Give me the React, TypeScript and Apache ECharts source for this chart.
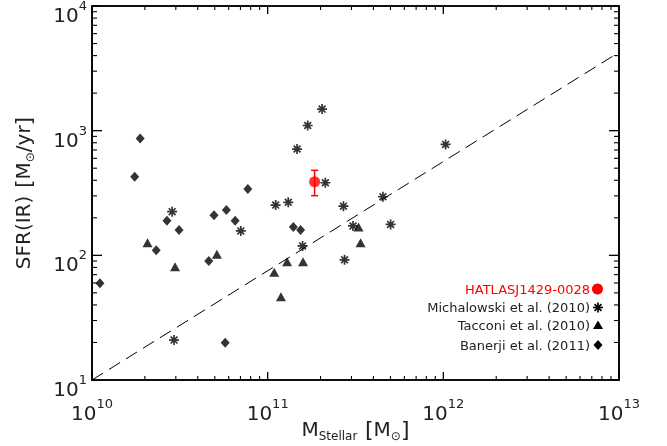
import React, { useEffect, useRef } from "react";
import * as echarts from "echarts";

// ---- Data ----
const michalowskiMass = [2.86e10, 7.03e10, 1.11e11, 1.31e11, 1.58e11, 2.7e11, 3.06e11, 2.74e11, 2.93e10, 2.13e11, 1.47e11, 1.69e11, 2.04e11, 1.03e12, 4.53e11, 5.01e11];
const michalowskiSFR = [224, 157, 253, 266, 119, 248, 172, 92, 20.9, 382, 712, 1100, 1490, 776, 295, 177];

const tacconiMass = [2.07e10, 2.97e10, 5.14e10, 1.09e11, 1.19e11, 1.29e11, 1.59e11, 3.29e11, 3.38e11];
const tacconiSFR = [126, 81, 102, 73, 46.5, 89, 89, 169, 126];

const banerjiMass = [1.11e10, 1.88e10, 1.75e10, 2.67e10, 2.32e10, 3.13e10, 4.95e10, 5.82e10, 6.53e10, 7.71e10, 4.62e10, 5.73e10, 1.4e11, 1.54e11];
const banerjiSFR = [59.6, 867, 427, 189, 110, 160, 210, 231, 189, 340, 90, 19.9, 169, 160];

const hatlasMass = [1.85e11];
const hatlasSFR = [389];
const hatlasSFRLow = [301];
const hatlasSFRHigh = [481];

const relationMass = [1e10, 1e13];
const relationSFR = [10, 4250];

const xRange = [1e10, 1e13];
const yRange = [10, 1e4];

const legendLabels = ["HATLASJ1429-0028", "Michalowski et al. (2010)", "Tacconi et al. (2010)", "Banerji et al. (2011)"];

// tick positions on the log axes: decades (major) and 2..9 x 10^k (minor)
const decades = (lo: number, hi: number) => {
  const out: number[] = [];
  for (let e = Math.round(Math.log10(lo)); e <= Math.round(Math.log10(hi)); e++) out.push(Math.pow(10, e));
  return out;
};
const minorTicks = (lo: number, hi: number) => {
  const out: number[] = [];
  for (let e = Math.round(Math.log10(lo)); e < Math.round(Math.log10(hi)); e++) {
    for (let m = 2; m <= 9; m++) out.push(m * Math.pow(10, e));
  }
  return out;
};

const FONT = "DejaVu Sans";
const TXT = "#222";
const ASTER = "path://M0,5L10,5M5,0L5,10M1.6,1.6L8.4,8.4M8.4,1.6L1.6,8.4";

const powLabel = (v: number) => `{b|10}{s|${Math.round(Math.log10(v))}}`;
const mkPowRich = () => ({
  b: { fontFamily: FONT, fontSize: 20, color: TXT, lineHeight: 26, verticalAlign: "bottom" },
  s: { fontFamily: FONT, fontSize: 13, color: TXT, lineHeight: 14, verticalAlign: "top" },
});
const mkNameRich = () => ({
  m: { fontFamily: FONT, fontSize: 20, color: TXT, lineHeight: 26, verticalAlign: "middle" },
  sub: { fontFamily: FONT, fontSize: 12, color: TXT, lineHeight: 12, verticalAlign: "bottom" },
  sp: { fontFamily: FONT, fontSize: 12, color: TXT, lineHeight: 12 },
  br: { fontFamily: FONT, fontSize: 22, color: TXT, lineHeight: 26, verticalAlign: "middle" },
  sun: { fontFamily: FONT, fontSize: 12, color: TXT, lineHeight: 12, verticalAlign: "bottom" },
});

const mkLine = () => ({ show: true, lineStyle: { color: "#000", width: 1.6 } });

export default function App() {
  const ref = useRef<HTMLDivElement>(null);

  useEffect(() => {
    if (!ref.current) return;
    const chart = echarts.init(ref.current, undefined, { renderer: "svg" });

    const option: any = {
      animation: false,
      grid: { left: 92, top: 6, width: 527, height: 374, outerBoundsMode: "none" },
      xAxis: [
        {
          type: "log",
          position: "bottom",
          min: xRange[0],
          max: xRange[1],
          axisLine: mkLine(),
          axisTick: { show: false },
          splitLine: { show: false },
          axisLabel: { show: true, formatter: powLabel, rich: mkPowRich(), margin: 17 },
          name: "{m|M}{sub|Stellar}{sp|  }{br|[}{m|M}{sun|⊙}{br|]}",
          nameLocation: "middle",
          nameGap: 36,
          nameMoveOverlap: false,
          nameTextStyle: { color: TXT, rich: mkNameRich() },
        },
        {
          type: "log",
          position: "top",
          min: xRange[0],
          max: xRange[1],
          axisLine: mkLine(),
          axisTick: { show: false },
          splitLine: { show: false },
          axisLabel: { show: false },
        },
      ],
      yAxis: [
        {
          type: "log",
          position: "left",
          min: yRange[0],
          max: yRange[1],
          axisLine: mkLine(),
          axisTick: { show: false },
          splitLine: { show: false },
          axisLabel: { show: true, formatter: powLabel, rich: mkPowRich(), margin: 5, padding: [12, 0, 0, 0] },
          name: "{m|SFR(IR)}{sp|  }{br|[}{m|M}{sun|⊙}{m|/yr}{br|]}",
          nameLocation: "middle",
          nameRotate: 90,
          nameGap: 56,
          nameMoveOverlap: false,
          nameTextStyle: { color: TXT, rich: mkNameRich() },
        },
        {
          type: "log",
          position: "right",
          min: yRange[0],
          max: yRange[1],
          axisLine: mkLine(),
          axisTick: { show: false },
          splitLine: { show: false },
          axisLabel: { show: false },
        },
      ],
      series: [
        {
          type: "line",
          name: "relation",
          data: relationMass.map((m, i) => [m, relationSFR[i]]),
          showSymbol: false,
          lineStyle: { color: "#000", width: 1, type: [13, 7] },
        },
        {
          type: "scatter",
          name: legendLabels[3],
          data: banerjiMass.map((m, i) => [m, banerjiSFR[i]]),
          symbol: "diamond",
          symbolSize: [9, 10],
          itemStyle: { color: "#000" },
        },
        {
          type: "scatter",
          name: legendLabels[2],
          data: tacconiMass.map((m, i) => [m, tacconiSFR[i]]),
          symbol: "triangle",
          symbolSize: [10, 9],
          itemStyle: { color: "#000" },
        },
        {
          type: "scatter",
          name: legendLabels[1],
          data: michalowskiMass.map((m, i) => [m, michalowskiSFR[i]]),
          symbol: ASTER,
          symbolSize: 10,
          itemStyle: { color: "#000", borderColor: "#000", borderWidth: 1.7 },
        },
        {
          type: "custom",
          name: "hatlas-err",
          silent: true,
          data: hatlasMass.map((m, i) => [m, hatlasSFRLow[i], hatlasSFRHigh[i]]),
          renderItem: (params: any, api: any) => {
            const lo = api.coord([api.value(0), api.value(1)]);
            const hi = api.coord([api.value(0), api.value(2)]);
            return {
              type: "group",
              children: [
                { type: "line", shape: { x1: lo[0], y1: lo[1], x2: hi[0], y2: hi[1] }, style: { stroke: "#ff0000", lineWidth: 1.5 } },
                { type: "line", shape: { x1: lo[0] - 3.5, y1: lo[1], x2: lo[0] + 3.5, y2: lo[1] }, style: { stroke: "#ff0000", lineWidth: 1.5 } },
                { type: "line", shape: { x1: hi[0] - 3.5, y1: hi[1], x2: hi[0] + 3.5, y2: hi[1] }, style: { stroke: "#ff0000", lineWidth: 1.5 } },
              ],
            };
          },
        },
        {
          type: "scatter",
          name: legendLabels[0],
          data: hatlasMass.map((m, i) => [m, hatlasSFR[i]]),
          symbol: "circle",
          symbolSize: 11,
          itemStyle: { color: "#ff0000" },
        },
      ],
    };

    chart.setOption(option);

    // frame and ticks: positions come from the axis scales via convertToPixel
    const px = (x: number, y: number) => chart.convertToPixel({ xAxisIndex: 0, yAxisIndex: 0 }, [x, y]) as number[];
    const bl = px(xRange[0], yRange[0]);
    const tr = px(xRange[1], yRange[1]);
    const frameEls: any[] = [];
    const tick = (x1: number, y1: number, x2: number, y2: number, w: number) =>
      frameEls.push({ type: "line", z: 100, shape: { x1, y1, x2, y2 }, style: { stroke: "#000", lineWidth: w } });

    frameEls.push({
      type: "rect",
      z: 100,
      shape: { x: bl[0], y: tr[1], width: tr[0] - bl[0], height: bl[1] - tr[1] },
      style: { fill: "none", stroke: "#000", lineWidth: 1.6 },
    });
    decades(xRange[0], xRange[1]).forEach((v) => {
      const x = px(v, yRange[0])[0];
      tick(x, bl[1], x, bl[1] - 8, 1.3);
      tick(x, tr[1], x, tr[1] + 8, 1.3);
    });
    minorTicks(xRange[0], xRange[1]).forEach((v) => {
      const x = px(v, yRange[0])[0];
      tick(x, bl[1], x, bl[1] - 4, 1.1);
      tick(x, tr[1], x, tr[1] + 4, 1.1);
    });
    decades(yRange[0], yRange[1]).forEach((v) => {
      const y = px(xRange[0], v)[1];
      tick(bl[0], y, bl[0] + 10, y, 1.3);
      tick(tr[0], y, tr[0] - 10, y, 1.3);
    });
    minorTicks(yRange[0], yRange[1]).forEach((v) => {
      const y = px(xRange[0], v)[1];
      tick(bl[0], y, bl[0] + 5, y, 1.1);
      tick(tr[0], y, tr[0] - 5, y, 1.1);
    });

    const legendEls: any[] = [
      { type: "text", x: 590, y: 289, style: { text: legendLabels[0], fill: "#ff0000", font: `13px "${FONT}"`, align: "right", verticalAlign: "middle" } },
      { type: "text", x: 590, y: 307.5, style: { text: legendLabels[1], fill: TXT, font: `13px "${FONT}"`, align: "right", verticalAlign: "middle" } },
      { type: "text", x: 590, y: 325.5, style: { text: legendLabels[2], fill: TXT, font: `13px "${FONT}"`, align: "right", verticalAlign: "middle" } },
      { type: "text", x: 590, y: 345, style: { text: legendLabels[3], fill: TXT, font: `13px "${FONT}"`, align: "right", verticalAlign: "middle" } },
      { type: "circle", shape: { cx: 597.5, cy: 289, r: 5.5 }, style: { fill: "#ff0000" } },
      { type: "line", shape: { x1: 593, y1: 307.5, x2: 603, y2: 307.5 }, style: { stroke: "#000", lineWidth: 1.7 } },
      { type: "line", shape: { x1: 598, y1: 302.5, x2: 598, y2: 312.5 }, style: { stroke: "#000", lineWidth: 1.7 } },
      { type: "line", shape: { x1: 594.6, y1: 304.1, x2: 601.4, y2: 310.9 }, style: { stroke: "#000", lineWidth: 1.7 } },
      { type: "line", shape: { x1: 601.4, y1: 304.1, x2: 594.6, y2: 310.9 }, style: { stroke: "#000", lineWidth: 1.7 } },
      { type: "polygon", shape: { points: [[598, 320.5], [603, 329], [593, 329]] }, style: { fill: "#000" } },
      { type: "polygon", shape: { points: [[598, 340], [602.5, 345], [598, 350], [593.5, 345]] }, style: { fill: "#000" } },
    ];

    chart.setOption({ graphic: [...legendEls, ...frameEls] });
    return () => chart.dispose();
  }, []);

  return <div ref={ref} style={{ position: "fixed", left: 0, top: 0, width: 667, height: 446 }} />;
}
